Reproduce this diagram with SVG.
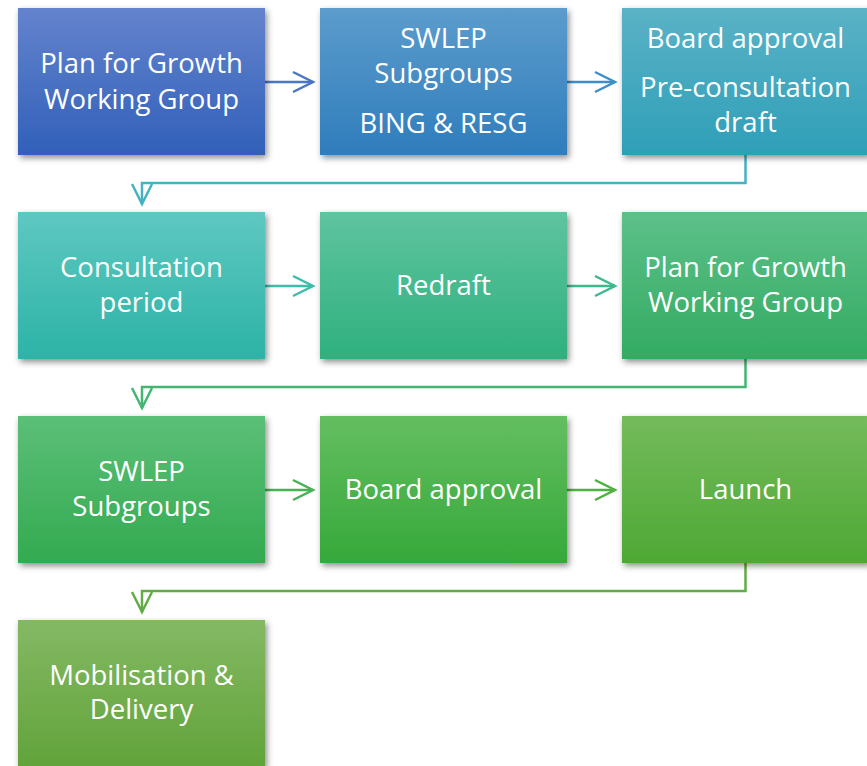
<svg xmlns="http://www.w3.org/2000/svg" width="867" height="766" viewBox="0 0 867 766">
<style>
.box{filter:url(#sh)}
.t{font-family:"Open Sans","Noto Sans","Liberation Sans",sans-serif;font-size:27.5px;fill:#ffffff;text-anchor:middle}
.c{fill:none;stroke-width:2.5}
</style>
<defs>
<filter id="sh" x="-10%" y="-10%" width="125%" height="130%">
<feDropShadow dx="2" dy="3" stdDeviation="3" flood-color="#000" flood-opacity="0.45"/>
</filter>
<linearGradient id="g1" x1="0" y1="0" x2="0" y2="1"><stop offset="0" stop-color="#6483cd"/><stop offset="1" stop-color="#3160b9"/></linearGradient>
<linearGradient id="g2" x1="0" y1="0" x2="0" y2="1"><stop offset="0" stop-color="#5c9ccc"/><stop offset="1" stop-color="#2f7dbc"/></linearGradient>
<linearGradient id="g3" x1="0" y1="0" x2="0" y2="1"><stop offset="0" stop-color="#5bb2c6"/><stop offset="1" stop-color="#2e9fb8"/></linearGradient>
<linearGradient id="g4" x1="0" y1="0" x2="0" y2="1"><stop offset="0" stop-color="#5ec8c1"/><stop offset="1" stop-color="#2db3a7"/></linearGradient>
<linearGradient id="g5" x1="0" y1="0" x2="0" y2="1"><stop offset="0" stop-color="#5fc4a0"/><stop offset="1" stop-color="#2fb07e"/></linearGradient>
<linearGradient id="g6" x1="0" y1="0" x2="0" y2="1"><stop offset="0" stop-color="#5dc089"/><stop offset="1" stop-color="#33ab62"/></linearGradient>
<linearGradient id="g7" x1="0" y1="0" x2="0" y2="1"><stop offset="0" stop-color="#5bbf78"/><stop offset="1" stop-color="#33aa50"/></linearGradient>
<linearGradient id="g8" x1="0" y1="0" x2="0" y2="1"><stop offset="0" stop-color="#64be60"/><stop offset="1" stop-color="#36a93a"/></linearGradient>
<linearGradient id="g9" x1="0" y1="0" x2="0" y2="1"><stop offset="0" stop-color="#74bb5c"/><stop offset="1" stop-color="#4ea834"/></linearGradient>
<linearGradient id="g10" x1="0" y1="0" x2="0" y2="1"><stop offset="0" stop-color="#84b964"/><stop offset="1" stop-color="#62a33a"/></linearGradient>
<marker id="m1" markerUnits="userSpaceOnUse" markerWidth="24" markerHeight="24" refX="20" refY="10" orient="auto" overflow="visible"><path d="M0,0 L20,10 L0,20" fill="none" stroke="#4a76c5" stroke-width="2.5"/></marker>
<marker id="m2" markerUnits="userSpaceOnUse" markerWidth="24" markerHeight="24" refX="20" refY="10" orient="auto" overflow="visible"><path d="M0,0 L20,10 L0,20" fill="none" stroke="#3d90c6" stroke-width="2.5"/></marker>
<marker id="m3" markerUnits="userSpaceOnUse" markerWidth="24" markerHeight="24" refX="20" refY="10" orient="auto" overflow="visible"><path d="M0,0 L20,10 L0,20" fill="none" stroke="#45b2c2" stroke-width="2.5"/></marker>
<marker id="m4" markerUnits="userSpaceOnUse" markerWidth="24" markerHeight="24" refX="20" refY="10" orient="auto" overflow="visible"><path d="M0,0 L20,10 L0,20" fill="none" stroke="#3fbdac" stroke-width="2.5"/></marker>
<marker id="m5" markerUnits="userSpaceOnUse" markerWidth="24" markerHeight="24" refX="20" refY="10" orient="auto" overflow="visible"><path d="M0,0 L20,10 L0,20" fill="none" stroke="#3cba8c" stroke-width="2.5"/></marker>
<marker id="m6" markerUnits="userSpaceOnUse" markerWidth="24" markerHeight="24" refX="20" refY="10" orient="auto" overflow="visible"><path d="M0,0 L20,10 L0,20" fill="none" stroke="#43b772" stroke-width="2.5"/></marker>
<marker id="m7" markerUnits="userSpaceOnUse" markerWidth="24" markerHeight="24" refX="20" refY="10" orient="auto" overflow="visible"><path d="M0,0 L20,10 L0,20" fill="none" stroke="#45b255" stroke-width="2.5"/></marker>
<marker id="m8" markerUnits="userSpaceOnUse" markerWidth="24" markerHeight="24" refX="20" refY="10" orient="auto" overflow="visible"><path d="M0,0 L20,10 L0,20" fill="none" stroke="#4fb043" stroke-width="2.5"/></marker>
<marker id="m9" markerUnits="userSpaceOnUse" markerWidth="24" markerHeight="24" refX="20" refY="10" orient="auto" overflow="visible"><path d="M0,0 L20,10 L0,20" fill="none" stroke="#62ac46" stroke-width="2.5"/></marker>
</defs>
<rect width="867" height="766" fill="#ffffff"/>
<g id="connectors">
<path class="c" stroke="#4a76c5" d="M265,82 H313" marker-end="url(#m1)"/>
<path class="c" stroke="#3d90c6" d="M567,82 H615" marker-end="url(#m2)"/>
<path class="c" stroke="#45b2c2" d="M745.5,155 V183 H142 V204" marker-end="url(#m3)"/>
<path class="c" stroke="#3fbdac" d="M265,286 H313" marker-end="url(#m4)"/>
<path class="c" stroke="#3cba8c" d="M567,286 H615" marker-end="url(#m5)"/>
<path class="c" stroke="#43b772" d="M745.5,359 V387 H142 V408" marker-end="url(#m6)"/>
<path class="c" stroke="#45b255" d="M265,490 H313" marker-end="url(#m7)"/>
<path class="c" stroke="#4fb043" d="M567,490 H615" marker-end="url(#m8)"/>
<path class="c" stroke="#62ac46" d="M745.5,563 V591 H142 V612" marker-end="url(#m9)"/>
</g>
<g id="n1"><rect class="box" x="18" y="8" width="247" height="147" fill="url(#g1)"/>
<text class="t" x="141.5" y="73">Plan for Growth</text><text class="t" x="141.5" y="109">Working Group</text></g>
<g id="n2"><rect class="box" x="320" y="8" width="247" height="147" fill="url(#g2)"/>
<text class="t" x="443.5" y="48">SWLEP</text><text class="t" x="443.5" y="83">Subgroups</text><text class="t" x="443.5" y="133">BING &amp; RESG</text></g>
<g id="n3"><rect class="box" x="622" y="8" width="247" height="147" fill="url(#g3)"/>
<text class="t" x="745.5" y="48">Board approval</text><text class="t" x="745.5" y="97">Pre-consultation</text><text class="t" x="745.5" y="132">draft</text></g>
<g id="n4"><rect class="box" x="18" y="212" width="247" height="147" fill="url(#g4)"/>
<text class="t" x="141.5" y="277">Consultation</text><text class="t" x="141.5" y="312">period</text></g>
<g id="n5"><rect class="box" x="320" y="212" width="247" height="147" fill="url(#g5)"/>
<text class="t" x="443.5" y="295">Redraft</text></g>
<g id="n6"><rect class="box" x="622" y="212" width="247" height="147" fill="url(#g6)"/>
<text class="t" x="745.5" y="277">Plan for Growth</text><text class="t" x="745.5" y="312">Working Group</text></g>
<g id="n7"><rect class="box" x="18" y="416" width="247" height="147" fill="url(#g7)"/>
<text class="t" x="141.5" y="481">SWLEP</text><text class="t" x="141.5" y="516">Subgroups</text></g>
<g id="n8"><rect class="box" x="320" y="416" width="247" height="147" fill="url(#g8)"/>
<text class="t" x="443.5" y="499">Board approval</text></g>
<g id="n9"><rect class="box" x="622" y="416" width="247" height="147" fill="url(#g9)"/>
<text class="t" x="745.5" y="499">Launch</text></g>
<g id="n10"><rect class="box" x="18" y="620" width="247" height="147" fill="url(#g10)"/>
<text class="t" x="141.5" y="685">Mobilisation &amp;</text><text class="t" x="141.5" y="719">Delivery</text></g>
</svg>
